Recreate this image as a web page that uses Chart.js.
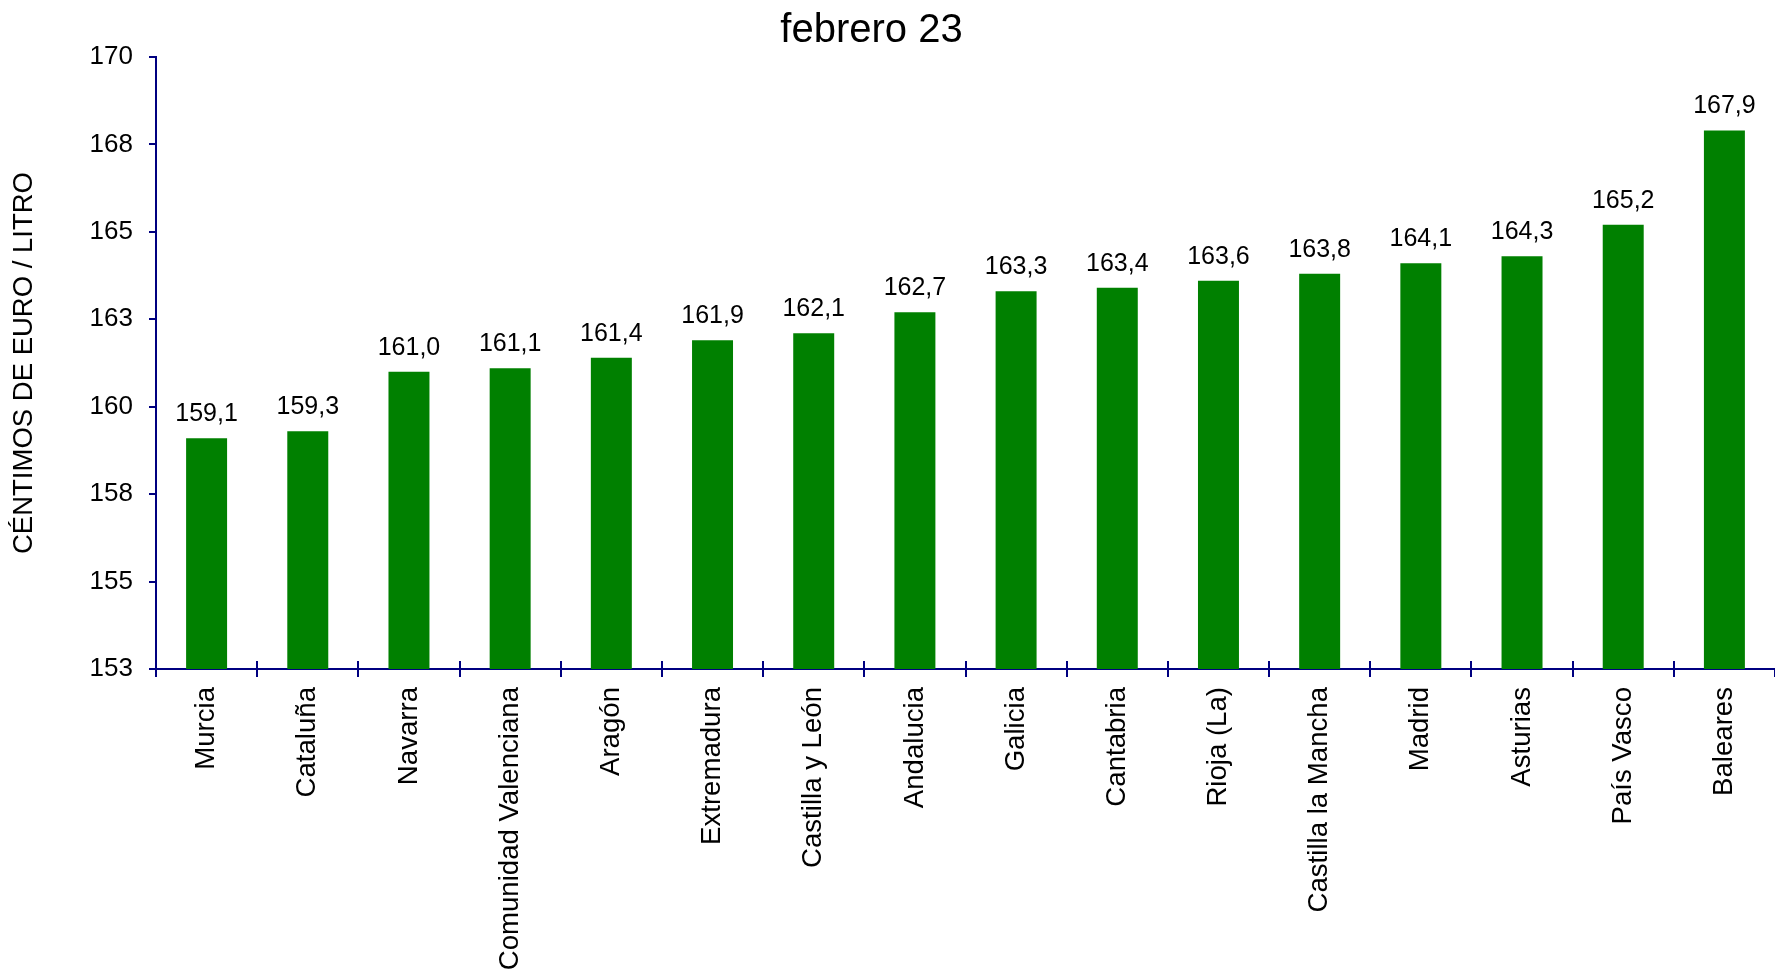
<!DOCTYPE html>
<html lang="es">
<head>
<meta charset="utf-8">
<title>febrero 23</title>
<script src="https://cdn.jsdelivr.net/npm/chart.js@4.4.0/dist/chart.umd.min.js"></script>
<style>
  body { margin: 0; background: #fff; }
  #wrap { width: 1775px; height: 971px; }
</style>
</head>
<body>
<div id="wrap"><canvas id="myChart"></canvas></div>
<script>
// datos
const titulo = 'febrero 23';
const regiones = ['Murcia', 'Cataluña', 'Navarra', 'Comunidad Valenciana', 'Aragón', 'Extremadura',
  'Castilla y León', 'Andalucia', 'Galicia', 'Cantabria', 'Rioja (La)', 'Castilla la Mancha',
  'Madrid', 'Asturias', 'País Vasco', 'Baleares'];
const precios = [159.1, 159.3, 161.0, 161.1, 161.4, 161.9, 162.1, 162.7, 163.3, 163.4, 163.6, 163.8,
  164.1, 164.3, 165.2, 167.9];
const yTicks = [152.5, 155, 157.5, 160, 162.5, 165, 167.5, 170];
const yTickLabels = ['153', '155', '158', '160', '163', '165', '168', '170'];

const azul = '#000080';
const fuente = '"Liberation Sans", Arial, sans-serif';

function fmt(v) {
  return v.toFixed(1).replace('.', ',');
}

// titulo, valores encima de las barras y marcas del eje x que cruzan
const etiquetas = {
  id: 'etiquetas',
  afterDatasetsDraw(chart) {
    const ctx = chart.ctx;
    const x = chart.scales.x;
    const meta = chart.getDatasetMeta(0);
    ctx.save();
    ctx.strokeStyle = azul;
    ctx.lineWidth = 2;
    for (let i = 1; i < regiones.length; i++) {
      const px = Math.round((x.getPixelForValue(i - 1) + x.getPixelForValue(i)) / 2);
      ctx.beginPath();
      ctx.moveTo(px, x.top - 8);
      ctx.lineTo(px, x.top);
      ctx.stroke();
    }
    ctx.fillStyle = '#000';
    ctx.textAlign = 'center';
    ctx.textBaseline = 'alphabetic';
    ctx.font = '25px ' + fuente;
    meta.data.forEach((bar, i) => {
      ctx.fillText(fmt(precios[i]), bar.x, bar.y - 17);
    });
    // el titulo va un poco a la izquierda del centro, como en el original
    ctx.font = '40px ' + fuente;
    ctx.fillText(titulo, chart.width * 0.491, 42);
    ctx.restore();
  }
};

const config = {
  type: 'bar',
  data: {
    labels: regiones,
    datasets: [{
      data: precios,
      backgroundColor: '#008000',
      borderWidth: 0,
      barPercentage: 0.405,
      categoryPercentage: 1.0
    }]
  },
  options: {
    responsive: true,
    maintainAspectRatio: false,
    animation: false,
    layout: { padding: { left: 0, right: 0, top: 57, bottom: 0 } },
    scales: {
      x: {
        offset: true,
        grid: {
          display: true,
          offset: true,
          drawOnChartArea: false,
          drawTicks: true,
          tickLength: 8,
          color: azul,
          lineWidth: 2
        },
        border: { display: true, color: azul, width: 2 },
        ticks: {
          autoSkip: false,
          minRotation: 90,
          maxRotation: 90,
          padding: 10,
          color: '#000',
          font: { family: fuente, size: 27.6 }
        },
        afterFit: s => { s.height = 302; }
      },
      y: {
        min: 152.5,
        max: 170,
        afterBuildTicks: s => { s.ticks = yTicks.map(v => ({ value: v })); },
        grid: {
          display: true,
          drawOnChartArea: false,
          drawTicks: true,
          tickLength: 7,
          color: azul,
          lineWidth: 2
        },
        border: { display: true, color: azul, width: 2 },
        ticks: {
          padding: 16,
          color: '#000',
          font: { family: fuente, size: 26 },
          callback: (v, i) => yTickLabels[i]
        },
        title: {
          display: true,
          text: 'CÉNTIMOS DE EURO / LITRO',
          color: '#000',
          font: { family: fuente, size: 27.5 },
          padding: { top: 8, bottom: 0 }
        },
        afterFit: s => { s.width = 156; }
      }
    },
    plugins: {
      legend: { display: false },
      tooltip: { enabled: false },
      title: { display: false }
    }
  },
  plugins: [etiquetas]
};

const myChart = new Chart(document.getElementById('myChart'), config);
</script>
</body>
</html>
